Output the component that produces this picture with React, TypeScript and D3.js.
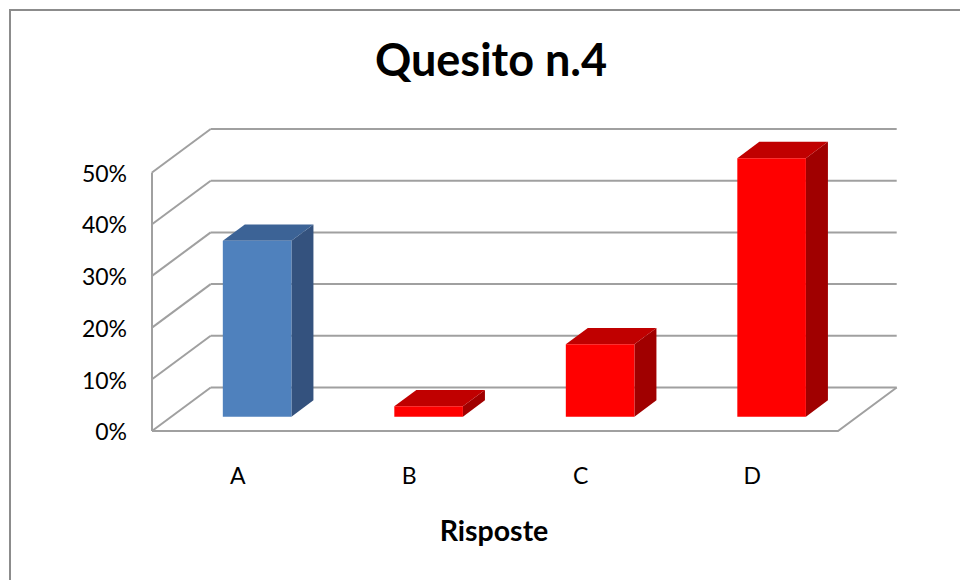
import React from "react";
import * as d3 from "d3";

const categories = ["A", "B", "C", "D"];
const values = [0.34, 0.02, 0.14, 0.5];
const yTicks = [0, 0.1, 0.2, 0.3, 0.4, 0.5];
const titleText = "Quesito n.4";
const xAxisTitle = "Risposte";

const W = 960;
const H = 580;
const X0 = 152;
const FLOOR_Y = 431;
const FRONT_W = 686;
const DEPTH_DX = 58.7;
const DEPTH_DY = 43.5;
const BAR_T1 = 0.33;
const BAR_T2 = 0.705;

const FONT = "Lato, 'Open Sans', sans-serif";

const palette = [
  { front: "#4F81BD", top: "#3C6396", side: "#34527E" },
  { front: "#FF0000", top: "#C00000", side: "#A00000" },
  { front: "#FF0000", top: "#C00000", side: "#A00000" },
  { front: "#FF0000", top: "#C00000", side: "#A00000" },
];

export default function App() {
  const xBand = d3
    .scaleBand<string>()
    .domain(categories)
    .range([0, FRONT_W])
    .paddingInner(0.6)
    .paddingOuter(0.3);
  const xStep = d3.scaleBand<string>().domain(categories).range([0, FRONT_W]);
  const yScale = d3.scaleLinear().domain([0, 0.5]).range([0, 258.5]);

  const P = (u: number, h: number, t: number): [number, number] => [
    X0 + u + t * DEPTH_DX,
    FLOOR_Y - h - t * DEPTH_DY,
  ];
  const poly = (pts: [number, number][]) =>
    pts.map((p) => p[0].toFixed(2) + "," + p[1].toFixed(2)).join(" ");

  const grid = "#A0A0A0";

  return (
    <svg
      width={W}
      height={H}
      style={{ position: "fixed", left: 0, top: 0, background: "#fff" }}
    >
      <rect x={0} y={0} width={W} height={H} fill="#fff" />
      <rect x={10} y={10} width={W + 20} height={H + 20} fill="none" stroke="#8C8C8C" strokeWidth={2} />

      {/* back wall gridlines */}
      {yTicks.map((v) => {
        const a = P(0, yScale(v), 1);
        const b = P(FRONT_W, yScale(v), 1);
        const c = P(0, yScale(v), 0);
        return (
          <g key={"g" + v}>
            <line x1={a[0]} y1={a[1]} x2={b[0]} y2={b[1]} stroke={grid} strokeWidth={2} />
            <line x1={c[0]} y1={c[1]} x2={a[0]} y2={a[1]} stroke={grid} strokeWidth={2} />
          </g>
        );
      })}
      {/* left vertical axis */}
      {(() => {
        const a = P(0, 0, 0);
        const b = P(0, yScale(0.5), 0);
        return <line x1={a[0]} y1={a[1]} x2={b[0]} y2={b[1]} stroke={grid} strokeWidth={2} />;
      })()}
      {/* floor front and right edges */}
      {(() => {
        const a = P(0, 0, 0);
        const b = P(FRONT_W, 0, 0);
        const c = P(FRONT_W, 0, 1);
        return (
          <polyline points={poly([a, b, c])} fill="none" stroke={grid} strokeWidth={2} />
        );
      })()}

      {/* bars */}
      {categories.map((c, i) => {
        const u0 = xBand(c) as number;
        const u1 = u0 + xBand.bandwidth();
        const h = yScale(values[i]);
        const col = palette[i];
        const front = [P(u0, 0, BAR_T1), P(u1, 0, BAR_T1), P(u1, h, BAR_T1), P(u0, h, BAR_T1)];
        const top = [P(u0, h, BAR_T1), P(u1, h, BAR_T1), P(u1, h, BAR_T2), P(u0, h, BAR_T2)];
        const side = [P(u1, 0, BAR_T1), P(u1, 0, BAR_T2), P(u1, h, BAR_T2), P(u1, h, BAR_T1)];
        return (
          <g key={c}>
            <polygon points={poly(side)} fill={col.side} />
            <polygon points={poly(top)} fill={col.top} />
            <polygon points={poly(front)} fill={col.front} />
          </g>
        );
      })}

      {/* y labels */}
      {yTicks.map((v) => (
        <text
          key={"t" + v}
          x={127}
          y={FLOOR_Y - yScale(v) + 1}
          dy="0.36em"
          textAnchor="end"
          fontFamily={FONT}
          fontSize={23}
          fill="#000"
        >
          {d3.format(".0%")(v)}
        </text>
      ))}

      {/* x labels */}
      {categories.map((c) => (
        <text
          key={"x" + c}
          x={X0 + (xStep(c) as number) + xStep.bandwidth() / 2}
          y={484}
          textAnchor="middle"
          fontFamily={FONT}
          fontSize={23}
          fill="#000"
        >
          {c}
        </text>
      ))}

      <text
        x={491}
        y={76}
        textAnchor="middle"
        fontFamily={FONT}
        fontWeight="bold"
        fontSize={45}
        fill="#000"
      >
        {titleText}
      </text>
      <text
        x={494}
        y={541}
        textAnchor="middle"
        fontFamily={FONT}
        fontWeight="bold"
        fontSize={28.5}
        fill="#000"
      >
        {xAxisTitle}
      </text>
    </svg>
  );
}
